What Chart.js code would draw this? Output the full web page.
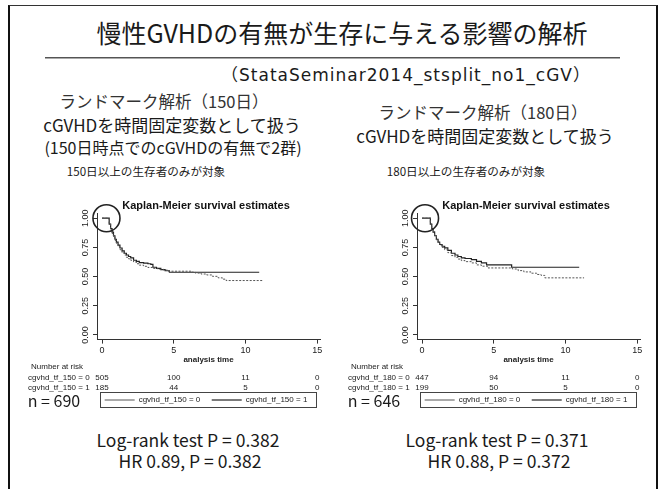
<!DOCTYPE html>
<html lang="ja">
<head>
<meta charset="utf-8">
<script src="https://cdn.jsdelivr.net/npm/chart.js@4.4.1/dist/chart.umd.min.js"></script>
<style>
  html, body { margin: 0; padding: 0; background: #fff; }
  #slide { position: relative; width: 664px; height: 489px; overflow: hidden; background: #fff;
           font-family: 'Noto Sans CJK JP', 'Noto Sans', sans-serif; color: #1a1a1a; }
  .frame { position: absolute; left: 8px; top: 5px; width: 646px; height: 520px;
           border: 2px solid #111; border-top: 1.5px solid #333; }
  .rule { position: absolute; left: 45px; top: 57px; width: 575px; height: 0;
          border-top: 1px solid #555; border-bottom: 1px solid #aaa; }
  .t { position: absolute; white-space: nowrap; transform: translate(-50%, -50%); line-height: 1; }
  canvas { position: absolute; }
</style>
</head>
<body>
<div id="slide">
  <div class="frame"></div>
  <div class="t" style="left:342px; top:32px; font-size:25px;">慢性GVHDの有無が生存に与える影響の解析</div>
  <div class="rule"></div>
  <div class="t" style="left:406px; top:75px; font-size:17px; letter-spacing:1px; font-family:'DejaVu Sans','Noto Sans CJK JP',sans-serif;">（StataSeminar2014_stsplit_no1_cGV）</div>

  <div class="t" style="left:164px; top:101px; font-size:16.5px; color:#333;">ランドマーク解析（150日）</div>
  <div class="t" style="left:172px; top:124px; font-size:17px;">cGVHDを時間固定変数として扱う</div>
  <div class="t" style="left:173px; top:147px; font-size:16px;">(150日時点でのcGVHDの有無で2群)</div>
  <div class="t" style="left:483px; top:112px; font-size:16.5px; color:#333;">ランドマーク解析（180日）</div>
  <div class="t" style="left:485px; top:135px; font-size:17px;">cGVHDを時間固定変数として扱う</div>

  <div class="t" style="left:146px; top:172px; font-size:11.6px;">150日以上の生存者のみが対象</div>
  <div class="t" style="left:466px; top:172px; font-size:11.6px;">180日以上の生存者のみが対象</div>

  <canvas id="km150" width="305" height="224" style="left:20px; top:191px;"></canvas>
  <canvas id="km180" width="305" height="224" style="left:340px; top:191px;"></canvas>

  <div class="t" style="left:54px; top:400px; font-size:16px;">n = 690</div>
  <div class="t" style="left:374px; top:400px; font-size:16px;">n = 646</div>

  <div class="t" style="left:188px; top:440px; font-size:17.5px;">Log-rank test P = 0.382</div>
  <div class="t" style="left:190px; top:461px; font-size:17.5px;">HR 0.89, P = 0.382</div>
  <div class="t" style="left:497px; top:440px; font-size:17.5px;">Log-rank test P = 0.371</div>
  <div class="t" style="left:499px; top:461px; font-size:17.5px;">HR 0.88, P = 0.372</div>
</div>
<script>
// axis ticks
const timeTicks = [0, 5, 10, 15];
const survTicks = [0, 0.25, 0.5, 0.75, 1];
const riskTimes = [0, 5, 10, 15];

// landmark 150 days
const t150_0 = [0, 0.41, 0.5, 0.6, 0.7, 0.8, 0.9, 1.0, 1.12, 1.25, 1.4, 1.55, 1.7, 1.85, 2.0, 2.2, 2.4, 2.6, 2.9, 3.2, 3.5, 3.9, 4.3, 4.6, 6.2, 6.5, 6.9, 7.3, 7.7, 8.1, 8.4, 8.65, 11.2];
const s150_0 = [1, 1, 0.95, 0.91, 0.87, 0.84, 0.81, 0.785, 0.755, 0.73, 0.705, 0.685, 0.665, 0.652, 0.64, 0.625, 0.61, 0.598, 0.588, 0.578, 0.57, 0.562, 0.555, 0.546, 0.538, 0.53, 0.522, 0.514, 0.502, 0.489, 0.478, 0.466, 0.466];
const t150_1 = [0, 0.41, 0.5, 0.6, 0.7, 0.8, 0.9, 1.0, 1.12, 1.25, 1.4, 1.55, 1.7, 1.85, 2.0, 2.2, 2.4, 2.6, 2.9, 3.2, 3.4, 3.55, 3.8, 4.1, 4.4, 4.7, 10.96];
const s150_1 = [1, 1, 0.95, 0.91, 0.88, 0.85, 0.82, 0.795, 0.77, 0.745, 0.72, 0.7, 0.685, 0.672, 0.66, 0.64, 0.63, 0.62, 0.615, 0.61, 0.605, 0.58, 0.57, 0.56, 0.55, 0.537, 0.537];
const risk150_0 = [505, 100, 11, 0];
const risk150_1 = [185, 44, 5, 0];
const groups150 = ['cgvhd_tf_150 = 0', 'cgvhd_tf_150 = 1'];

// landmark 180 days
const t180_0 = [0, 0.49, 0.58, 0.68, 0.77, 0.88, 1.0, 1.12, 1.23, 1.4, 1.58, 1.8, 2.05, 2.3, 2.5, 2.74, 3.0, 3.44, 3.8, 4.14, 4.6, 6.3, 6.7, 7.1, 7.6, 8.0, 8.3, 8.56, 11.3];
const s180_0 = [1, 1, 0.95, 0.91, 0.885, 0.85, 0.815, 0.79, 0.77, 0.75, 0.73, 0.705, 0.68, 0.665, 0.65, 0.637, 0.628, 0.617, 0.6, 0.589, 0.574, 0.565, 0.551, 0.54, 0.529, 0.518, 0.51, 0.489, 0.489];
const t180_1 = [0, 0.49, 0.58, 0.68, 0.77, 0.88, 1.0, 1.12, 1.23, 1.4, 1.58, 1.8, 2.05, 2.3, 2.5, 2.74, 3.0, 3.44, 3.8, 4.14, 4.5, 6.25, 10.96];
const s180_1 = [1, 1, 0.95, 0.91, 0.88, 0.85, 0.82, 0.795, 0.775, 0.76, 0.746, 0.725, 0.7, 0.685, 0.672, 0.66, 0.655, 0.646, 0.63, 0.617, 0.6, 0.58, 0.58];
const risk180_0 = [447, 94, 11, 0];
const risk180_1 = [199, 50, 5, 0];
const groups180 = ['cgvhd_tf_180 = 0', 'cgvhd_tf_180 = 1'];

const statFont = '"Liberation Sans", Arial, sans-serif';

// rotated y labels, circle, number-at-risk table and legend frame
const kmExtras = {
    id: 'kmExtras',
    afterDraw(chart, args, opts) {
        const ctx = chart.ctx;
        const xs = chart.scales.x, ys = chart.scales.y;
        const area = chart.chartArea;
        ctx.save();
        ctx.fillStyle = '#222';
        ctx.font = '9px ' + statFont;
        ctx.textAlign = 'center';
        ctx.textBaseline = 'middle';
        survTicks.forEach(v => {
            ctx.save();
            ctx.translate(area.left - 11, ys.getPixelForValue(v));
            ctx.rotate(-Math.PI / 2);
            ctx.fillText(v.toFixed(2), 0, 0);
            ctx.restore();
        });

        // highlight circle
        ctx.strokeStyle = '#222';
        ctx.lineWidth = 1.6;
        ctx.beginPath();
        ctx.arc(xs.getPixelForValue(opts.circleT), ys.getPixelForValue(1), 13.5, 0, Math.PI * 2);
        ctx.stroke();

        // number at risk
        ctx.font = '8px ' + statFont;
        ctx.fillText('Number at risk', 37, area.bottom + 27);
        opts.risk.forEach((row, r) => {
            const yy = area.bottom + 38 + r * 10;
            ctx.textAlign = 'left';
            ctx.fillText(opts.groups[r], 8, yy);
            ctx.textAlign = 'center';
            row.forEach((n, i) => ctx.fillText(String(n), xs.getPixelForValue(riskTimes[i]), yy));
        });

        // legend frame
        const boxes = chart.legend.legendHitBoxes;
        if (boxes && boxes.length) {
            const top = Math.min(...boxes.map(b => b.top));
            const bottom = Math.max(...boxes.map(b => b.top + b.height));
            ctx.strokeStyle = '#444';
            ctx.lineWidth = 1;
            ctx.strokeRect(area.left + 3.5, top - 3.5, area.right - area.left - 7, bottom - top + 7);
        }
        ctx.restore();
    }
};

function kmChart(id, curves, groups, risk, circleT) {
    const styles = [
        { borderColor: '#555', borderWidth: 1, borderDash: [2, 1.5] },
        { borderColor: '#222', borderWidth: 1.2, borderDash: [] }
    ];
    new Chart(document.getElementById(id), {
        type: 'line',
        data: {
            datasets: curves.map((c, k) => ({
                label: groups[k],
                data: c.t.map((v, i) => ({ x: v, y: c.s[i] })),
                stepped: true,
                pointRadius: 0,
                fill: false,
                ...styles[k]
            }))
        },
        options: {
            responsive: false,
            animation: false,
            devicePixelRatio: 1,
            // left room holds the rotated labels and the risk table labels
            layout: { padding: { left: 72, right: 5, top: 0, bottom: 1 } },
            plugins: {
                title: {
                    display: true,
                    text: 'Kaplan-Meier survival estimates',
                    color: '#111',
                    font: { family: statFont, size: 11, weight: 'bold' },
                    padding: { top: 8, bottom: 1 }
                },
                legend: {
                    position: 'bottom',
                    labels: {
                        usePointStyle: true,
                        pointStyle: 'line',
                        pointStyleWidth: 30,
                        color: '#222',
                        padding: 7,
                        font: { family: statFont, size: 8 },
                        // a little more room after the first entry, as in Stata's legend
                        generateLabels: ch => Chart.defaults.plugins.legend.labels.generateLabels(ch)
                            .map((item, i) => ({ ...item, text: i === 0 ? item.text + '  ' : item.text }))
                    }
                },
                tooltip: { enabled: false },
                kmExtras: { risk: risk, groups: groups, circleT: circleT }
            },
            scales: {
                x: {
                    type: 'linear',
                    min: -0.35,
                    max: 15.2,
                    afterBuildTicks: s => { s.ticks = timeTicks.map(v => ({ value: v })); },
                    grid: { display: true, drawOnChartArea: false, drawTicks: true, tickLength: 4, color: '#333' },
                    border: { display: true, color: '#333' },
                    ticks: { color: '#222', padding: 2, maxRotation: 0, font: { family: statFont, size: 9 } },
                    title: {
                        display: true,
                        text: 'analysis time',
                        color: '#222',
                        font: { family: statFont, size: 8, weight: 'bold' },
                        padding: { top: -3, bottom: 24 }
                    }
                },
                y: {
                    min: -0.04,
                    max: 1.043,
                    afterBuildTicks: s => { s.ticks = survTicks.map(v => ({ value: v })); },
                    afterFit: s => { s.width = 5; },
                    grid: { display: true, drawOnChartArea: false, drawTicks: true, tickLength: 4, color: '#333' },
                    border: { display: true, color: '#333' },
                    ticks: { display: false }
                }
            }
        },
        plugins: [kmExtras]
    });
}

kmChart('km150', [{ t: t150_0, s: s150_0 }, { t: t150_1, s: s150_1 }], groups150, [risk150_0, risk150_1], 0.31);
kmChart('km180', [{ t: t180_0, s: s180_0 }, { t: t180_1, s: s180_1 }], groups180, [risk180_0, risk180_1], 0.21);
</script>
</body>
</html>
